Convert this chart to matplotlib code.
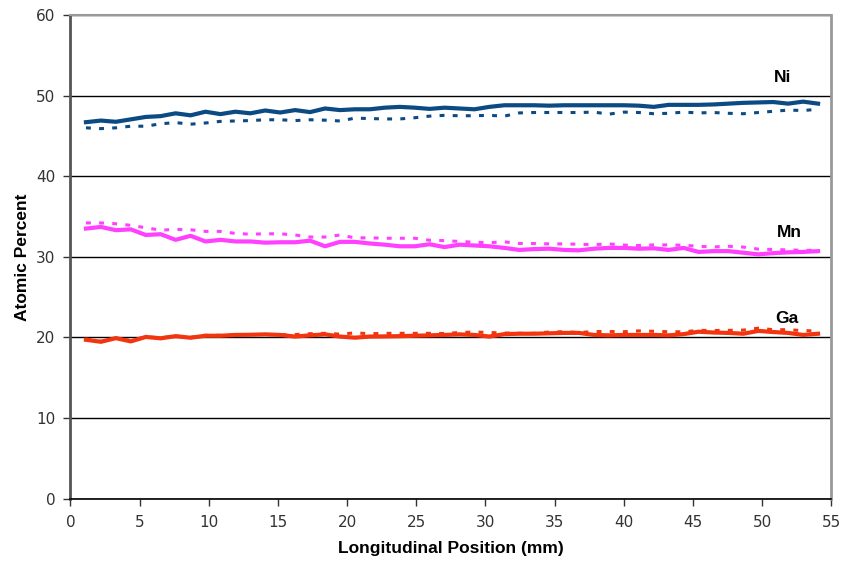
import numpy as np
import matplotlib
matplotlib.use("Agg")
import matplotlib.pyplot as plt

# positions along the sample (mm)
pos = [round(1.12 + 1.08 * i, 2) for i in range(50)]

ni_solid = [46.7, 46.9, 46.75, 47.05, 47.35, 47.45, 47.8, 47.55, 48.0, 47.7,
            48.0, 47.8, 48.15, 47.9, 48.2, 47.95, 48.4, 48.2, 48.3, 48.3,
            48.5, 48.6, 48.5, 48.35, 48.5, 48.4, 48.3, 48.6, 48.8, 48.8,
            48.8, 48.75, 48.8, 48.8, 48.8, 48.8, 48.8, 48.75, 48.6, 48.85,
            48.85, 48.85, 48.9, 49.0, 49.1, 49.15, 49.2, 49.0, 49.25, 49.0]
ni_dot = [46.0, 45.9, 46.0, 46.2, 46.2, 46.5, 46.65, 46.45, 46.6, 46.8,
          46.85, 46.9, 47.0, 47.0, 46.9, 47.0, 46.95, 46.85, 47.2, 47.15,
          47.1, 47.1, 47.25, 47.45, 47.55, 47.5, 47.5, 47.55, 47.45, 47.85,
          47.9, 47.9, 47.9, 47.9, 47.95, 47.7, 47.95, 47.9, 47.75, 47.8,
          47.95, 47.85, 47.9, 47.8, 47.75, 47.9, 48.05, 48.2, 48.15, 48.3]

mn_solid = [33.5, 33.7, 33.3, 33.4, 32.7, 32.8, 32.1, 32.6, 31.9, 32.1,
            31.9, 31.9, 31.75, 31.8, 31.8, 32.0, 31.3, 31.85, 31.85, 31.65,
            31.5, 31.3, 31.3, 31.55, 31.2, 31.5, 31.4, 31.3, 31.1, 30.85,
            30.95, 31.0, 30.85, 30.8, 31.0, 31.1, 31.1, 31.0, 31.05, 30.85,
            31.1, 30.6, 30.7, 30.7, 30.5, 30.3, 30.45, 30.55, 30.6, 30.7]
mn_dot = [34.2, 34.2, 34.1, 33.9, 33.6, 33.3, 33.4, 33.35, 33.15, 33.15,
          32.9, 32.8, 32.85, 32.85, 32.7, 32.45, 32.45, 32.7, 32.35, 32.35,
          32.3, 32.3, 32.3, 32.05, 32.0, 31.9, 31.8, 31.75, 31.85, 31.65,
          31.65, 31.6, 31.6, 31.55, 31.5, 31.6, 31.45, 31.4, 31.47, 31.47,
          31.43, 31.3, 31.22, 31.3, 31.2, 30.95, 30.9, 30.85, 30.8, 30.8]

ga_solid = [19.7, 19.45, 19.9, 19.5, 20.05, 19.88, 20.15, 19.95, 20.2, 20.2,
            20.3, 20.32, 20.37, 20.3, 20.1, 20.25, 20.37, 20.1, 19.96, 20.1,
            20.12, 20.15, 20.2, 20.25, 20.3, 20.37, 20.3, 20.1, 20.4, 20.45,
            20.45, 20.5, 20.55, 20.55, 20.3, 20.25, 20.3, 20.3, 20.3, 20.25,
            20.4, 20.7, 20.6, 20.55, 20.45, 20.8, 20.66, 20.55, 20.3, 20.45]
ga_dot = [19.8, 19.5, 19.9, 19.6, 20.05, 19.95, 20.15, 20.0, 20.25, 20.25,
          20.3, 20.35, 20.35, 20.3, 20.35, 20.45, 20.5, 20.4, 20.55, 20.45,
          20.5, 20.5, 20.5, 20.5, 20.48, 20.6, 20.66, 20.6, 20.54, 20.5,
          20.5, 20.66, 20.7, 20.6, 20.72, 20.72, 20.7, 20.8, 20.75, 20.7,
          20.68, 20.87, 20.85, 20.87, 20.9, 21.14, 20.95, 20.95, 20.83, 20.8]

elements = ["Ni", "Mn", "Ga"]
label_xy = [(51.5, 52.2), (52.0, 33.0), (51.8, 22.4)]
colors = ["#0b4a82", "#ff40ff", "#f2340f"]
xticks = list(range(0, 56, 5))
yticks = list(range(0, 61, 10))

fig = plt.figure(figsize=(8.44, 5.66), dpi=100)
ax = fig.add_axes([0.0835, 0.1192, 0.9015, 0.8543])

series = [(ni_solid, ni_dot), (mn_solid, mn_dot), (ga_solid, ga_dot)]
for (s, d), c in zip(series, colors):
    ax.plot(pos, d, color=c, lw=2.2, linestyle=(0, (1.6, 2.7)), zorder=3)
    ax.plot(pos, s, color=c, lw=3.0, solid_joinstyle="round", zorder=4)

for name, (tx, ty) in zip(elements, label_xy):
    ax.text(tx, ty, name, ha="center", va="center", fontsize=12.5,
            fontweight="bold", family="Liberation Sans", zorder=5)

ax.set_xlim(0, 55)
ax.set_ylim(0, 60)
ax.set_xticks(xticks)
ax.set_yticks(yticks)
ax.yaxis.grid(True, color="black", lw=1.0)
ax.set_axisbelow(True)

ax.spines["left"].set_color("#555555"); ax.spines["left"].set_linewidth(2)
ax.spines["right"].set_color("#999999"); ax.spines["right"].set_linewidth(2)
ax.spines["top"].set_color("#999999"); ax.spines["top"].set_linewidth(1.5)
ax.spines["bottom"].set_color("black"); ax.spines["bottom"].set_linewidth(1.2)

ax.tick_params(axis="both", direction="out", length=5, width=1,
               labelsize=11, labelcolor="#333333", color="#333333")
ax.tick_params(axis="x", pad=7)
ax.tick_params(axis="y", pad=6)

ax.set_xlabel("Longitudinal Position (mm)", fontsize=12.5, fontweight="bold",
              family="Liberation Sans", labelpad=8)
ax.set_ylabel("Atomic Percent", fontsize=12.5, fontweight="bold",
              family="Liberation Sans", labelpad=4)

fig.savefig("out.png", dpi=100)
